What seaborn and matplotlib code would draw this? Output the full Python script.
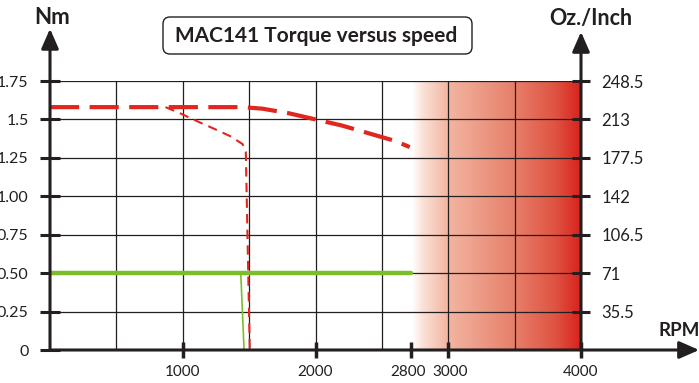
import matplotlib
matplotlib.use('Agg')
import matplotlib.pyplot as plt
import seaborn as sns
import numpy as np
from matplotlib.colors import LinearSegmentedColormap
from matplotlib.patches import FancyBboxPatch
from matplotlib.transforms import ScaledTranslation

# --- data (RPM / Nm) ---
peak_rpm = [0, 1450, 1600, 1800, 2000, 2200, 2400, 2600, 2710]
peak_nm = [1.58, 1.58, 1.57, 1.54, 1.50, 1.46, 1.41, 1.36, 1.32]

cont_rpm = [870, 980, 1130, 1260, 1360, 1450, 1475, 1505]
cont_nm = [1.58, 1.54, 1.48, 1.43, 1.39, 1.34, 1.29, 0.0]

rated_rpm = [0, 2720]
rated_nm = [0.5, 0.5]
rated_drop_rpm = [1437, 1462]
rated_drop_nm = [0.5, 0.0]

nm_ticks = [0, 0.25, 0.5, 0.75, 1.0, 1.25, 1.5, 1.75]
nm_labels = ['0', '0.25', '0.50', '0.75', '1.00', '1.25', '1.5', '1.75']
oz_ticks = [35.5, 71, 106.5, 142, 177.5, 213, 248.5]
oz_labels = ['35.5', '71', '106.5', '142', '177.5', '213', '248.5']
rpm_ticks = [1000, 2000, 2720, 3000, 4000]
rpm_labels = ['1000', '2000', '2800', '3000', '4000']

sns.set_theme(style='white')
plt.rcParams['font.family'] = ['Lato', 'DejaVu Sans']

k = '#231f20'
red = '#e0261e'
green = '#7dbd2b'

fig = plt.figure(figsize=(6.99, 3.83), dpi=100)
ax = fig.add_axes([50/699, 33/383, 531/699, 269/383])

# red zone gradient above rated speed
cmap = LinearSegmentedColormap.from_list('zone', [
    (0.0, '#ffffff'), (0.06, '#fbe2d8'), (0.21, '#f2b6a2'),
    (0.6, '#e7806b'), (0.85, '#df5342'), (1.0, '#d8231c')])
grad = np.linspace(0, 1, 256).reshape(1, -1)
ax.imshow(grad, extent=[2730, 4000, 0, 1.75], aspect='auto', cmap=cmap, zorder=0)

# grid
for x in range(500, 4000, 500):
    ax.axvline(x, color=k, lw=0.9, zorder=1)
for y in nm_ticks[1:]:
    ax.axhline(y, color=k, lw=0.9, zorder=1)

# curves
sns.lineplot(x=rated_rpm, y=rated_nm, ax=ax, color=green, lw=3.2,
             sort=False, estimator=None, zorder=3)
sns.lineplot(x=rated_drop_rpm, y=rated_drop_nm, ax=ax, color=green, lw=1.2,
             sort=False, estimator=None, zorder=3)
sns.lineplot(x=cont_rpm, y=cont_nm, ax=ax, color=red, lw=1.5,
             linestyle=(0, (4.5, 3)), sort=False, estimator=None, zorder=4)
sns.lineplot(x=peak_rpm, y=peak_nm, ax=ax, color=red, lw=3,
             linestyle=(0, (7, 2.5)), sort=False, estimator=None, zorder=4)

ax.set_xlim(0, 4000)
ax.set_ylim(0, 1.75)
for s in ax.spines.values():
    s.set_visible(False)

ax.set_xticks(rpm_ticks)
ax.set_xticklabels(rpm_labels)
ax.set_yticks(nm_ticks)
ax.set_yticklabels(nm_labels)
ax.tick_params(axis='x', direction='inout', length=12, width=2.5, color=k,
               labelcolor=k, labelsize=11, pad=5, bottom=True)
ax.tick_params(axis='y', direction='inout', length=15, width=2.2, color=k,
               labelcolor=k, labelsize=11.5, pad=8, left=True)
ax.yaxis.get_major_ticks()[0].tick1line.set_visible(False)

# nudge the crowded 2800 / 3000 labels apart
xl = ax.get_xticklabels()
xl[2].set_transform(xl[2].get_transform() + ScaledTranslation(-0.03, 0, fig.dpi_scale_trans))
xl[3].set_transform(xl[3].get_transform() + ScaledTranslation(0.02, 0, fig.dpi_scale_trans))

ax2 = ax.twinx()
ax2.set_ylim(0, 248.5)
ax2.set_yticks(oz_ticks)
ax2.set_yticklabels(oz_labels)
for s in ax2.spines.values():
    s.set_visible(False)
ax2.tick_params(axis='y', direction='inout', length=13, width=2.2, color=k,
                labelcolor=k, labelsize=12, pad=8, right=True)

# axis lines with arrowheads
arrow = dict(arrowstyle='-|>,head_length=0.8,head_width=0.35', lw=2.2,
             color=k, shrinkA=0, shrinkB=0, mutation_scale=15)
ax.annotate('', xy=(0, 2.09), xytext=(0, 0), arrowprops=arrow,
            annotation_clip=False, zorder=6)
ax.annotate('', xy=(4000, 2.07), xytext=(4000, 0), arrowprops=arrow,
            annotation_clip=False, zorder=6)
ax.annotate('', xy=(4890, 0), xytext=(0, 0), arrowprops=arrow,
            annotation_clip=False, zorder=6)

fig.text(52/699, 1 - 18/383, 'Nm', ha='center', va='center',
         fontsize=16, fontweight='bold', color=k)
fig.text(591/699, 1 - 18/383, 'Oz./Inch', ha='center', va='center',
         fontsize=15.5, fontweight='bold', color=k)
fig.text(659/699, 1 - 330/383, 'RPM', ha='left', va='center',
         fontsize=13.5, fontweight='bold', color=k)

# title box
box = FancyBboxPatch((1.63, 3.29), 3.09, 0.37,
                     boxstyle='round,pad=0,rounding_size=0.07',
                     transform=fig.dpi_scale_trans, fc='white', ec=k, lw=1)
fig.patches.append(box)
fig.text(316/699, 1 - 36/383, 'MAC141 Torque versus speed', ha='center',
         va='center', fontsize=15, fontweight='bold', color=k)

fig.savefig('out.png', dpi=100)
